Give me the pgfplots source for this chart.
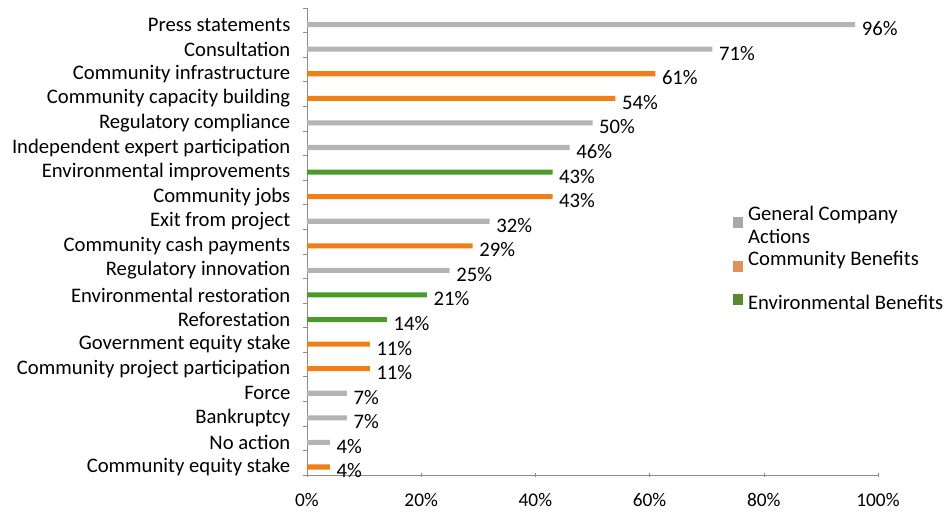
\documentclass[border=0pt]{standalone}
\usepackage{pgfplots}
\pgfplotsset{compat=1.18}
\usepackage{fontspec}
\setmainfont{Carlito}
\definecolor{cgray}{HTML}{B4B4B4}
\definecolor{corange}{HTML}{F07F17}
\definecolor{cgreen}{HTML}{4C9A2A}
\definecolor{lgray}{HTML}{A9A9A9}
\definecolor{lorange}{HTML}{E0925A}
\definecolor{lgreen}{HTML}{5A8A30}
\definecolor{axgray}{HTML}{8C8C8C}
\begin{document}
\begin{tikzpicture}
\useasboundingbox (0pt,0pt) rectangle (712.5pt,384pt);
\begin{axis}[
  at={(230.25pt,27.75pt)}, anchor=south west,
  scale only axis, width=428.25pt, height=350.25pt,
  xbar, bar width=3.8pt, bar shift=0pt,
  xmin=0, xmax=100,
  ymin=-0.325, ymax=18.675,
  xtick={0,20,40,60,80,100},
  xticklabels={0\%,20\%,40\%,60\%,80\%,100\%},
  ytick={0,...,18},
  yticklabels={Community equity stake,No action,Bankruptcy,Force,Community project participation,Government equity stake,Reforestation,Environmental restoration,Regulatory innovation,Community cash payments,Exit from project,Community jobs,Environmental improvements,Independent expert participation,Regulatory compliance,Community capacity building,Community infrastructure,Consultation,Press statements},
  minor ytick={-0.325,0.675,...,18.7},
  major tick length=0pt,
  minor tick length=3pt,
  tick align=outside,
  tick pos=left,
  extra x ticks={0,20,40,60,80,100},
  extra x tick labels={},
  extra x tick style={major tick length=3pt, tick align=center},
  axis x line*=bottom, axis y line*=left,
  axis line style={axgray},
  every tick/.style={axgray},
  minor tick style={axgray},
  ticklabel style={text=black},
  yticklabel style={font=\fontsize{15.5}{17}\selectfont, xshift=-9pt},
  xticklabel style={yshift=-10pt, font=\fontsize{14.5}{16}\selectfont},
  /pgf/number format/assume math mode=true,
  nodes near coords={\pgfmathprintnumber{\pgfplotspointmeta}\%},
  every node near coord/.append style={font=\fontsize{15.5}{17}\selectfont, anchor=west, xshift=1.5pt, yshift=-3pt, text=black},
  legend style={at={(rel axis cs:0.745,0.581)}, anchor=north west, draw=none, fill=none, inner sep=0pt,
    font=\fontsize{15.5}{17}\selectfont, cells={anchor=west, align=left}, row sep=0pt, column sep=2pt},
  legend cell align=left,
  clip=false,
]
\addlegendimage{legend image code/.code={\fill[lgray] (2pt,-0.5pt) rectangle (9.2pt,6.7pt);}}
\addlegendentry{General Company\\Actions}
\addlegendimage{legend image code/.code={\fill[lorange] (2pt,-0.5pt) rectangle (9.2pt,6.7pt);}}
\addlegendentry{Community Benefits\\\mbox{}}
\addlegendimage{legend image code/.code={\fill[lgreen] (2pt,-0.5pt) rectangle (9.2pt,6.7pt);}}
\addlegendentry{Environmental Benefits}
\addplot[fill=cgray, draw=none, forget plot] coordinates {
(96,18) (71,17) (50,14) (46,13) (32,10) (25,8) (7,3) (7,2) (4,1)};
\addplot[fill=corange, draw=none, forget plot] coordinates {
(61,16) (54,15) (43,11) (29,9) (11,5) (11,4) (4,0)};
\addplot[fill=cgreen, draw=none, forget plot] coordinates {
(43,12) (21,7) (14,6)};
\end{axis}
\end{tikzpicture}
\end{document}
